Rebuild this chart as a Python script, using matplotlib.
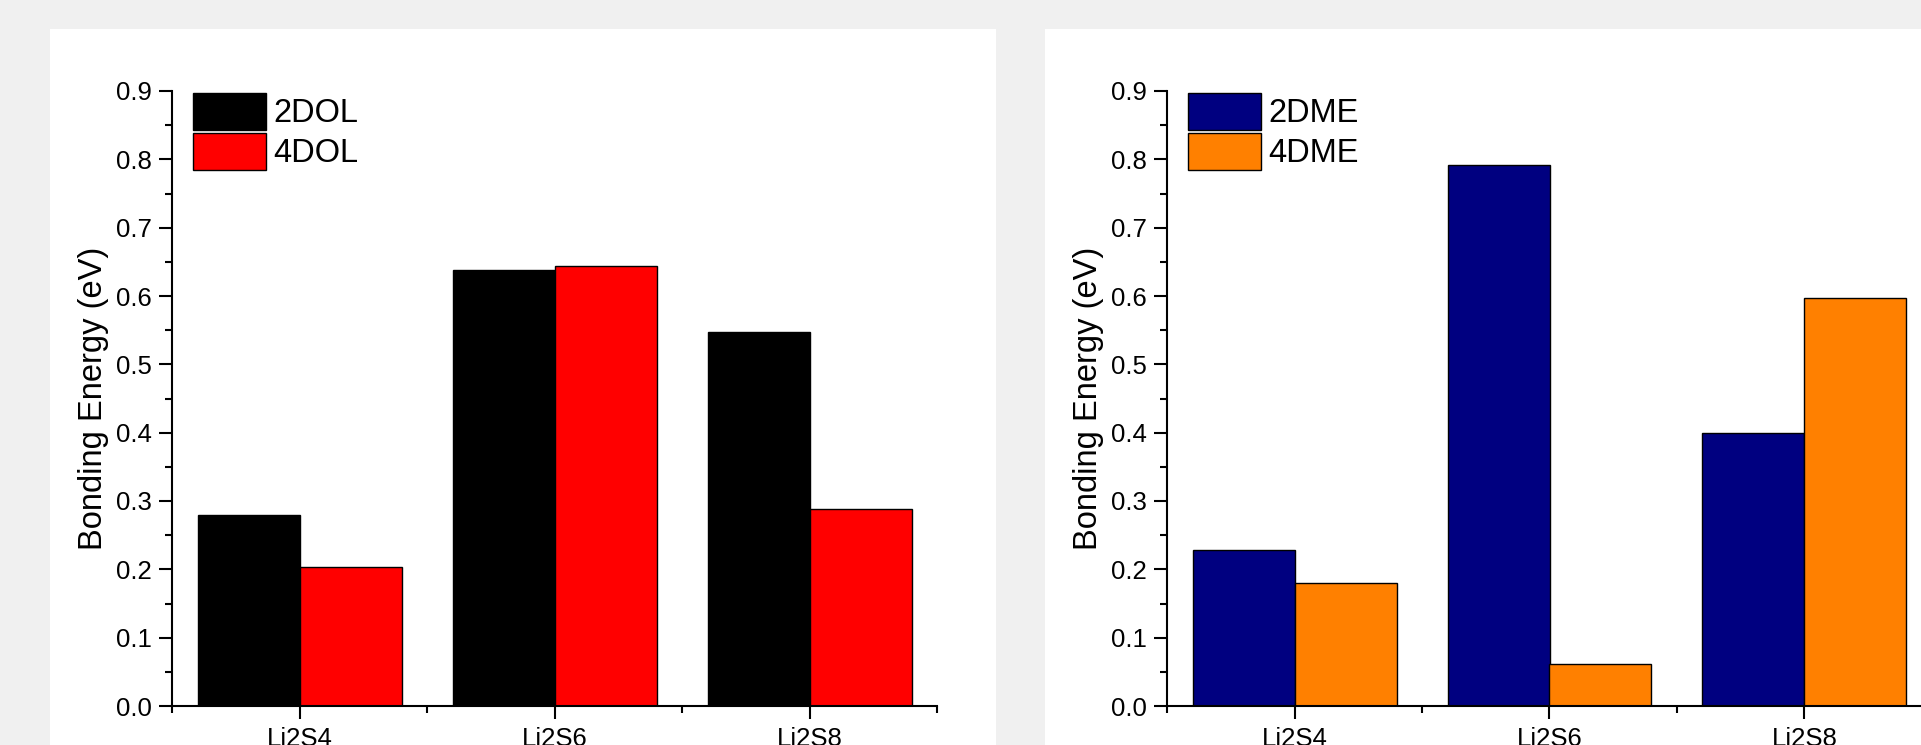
import matplotlib
matplotlib.use("Agg")
import matplotlib.pyplot as plt
from matplotlib.patches import Rectangle
from matplotlib.ticker import MultipleLocator, FixedLocator
import numpy as np

categories = ["Li2S4", "Li2S6", "Li2S8"]
dol_2 = [0.279, 0.638, 0.548]
dol_4 = [0.204, 0.644, 0.288]
dme_2 = [0.229, 0.791, 0.399]
dme_4 = [0.180, 0.061, 0.597]

plt.rcParams['font.family'] = ['Liberation Sans', 'DejaVu Sans']

W, H = 1921, 745
fig = plt.figure(figsize=(W / 100, H / 100), dpi=100, facecolor='#f0f0f0')

# white panels
fig.patches.append(Rectangle((50 / W, 0), (996 - 50) / W, (H - 29) / H,
                             transform=fig.transFigure, facecolor='white',
                             edgecolor='none', zorder=-5))
fig.patches.append(Rectangle((1045 / W, 0), (1991 - 1045) / W, (H - 29) / H,
                             transform=fig.transFigure, facecolor='white',
                             edgecolor='none', zorder=-5))

ax_w = 765 / W
ax_b = (H - 706) / H
ax_h = (706 - 91) / H


def make_panel(left_px, s1, s2, c1, c2, labels):
    ax = fig.add_axes([left_px / W, ax_b, ax_w, ax_h])
    ax.set_facecolor('white')
    x = np.arange(1, len(categories) + 1)
    ax.bar(x - 0.4, s1, width=0.4, align='edge', color=c1, edgecolor='black',
           linewidth=1.0, label=labels[0], zorder=2)
    ax.bar(x, s2, width=0.4, align='edge', color=c2, edgecolor='black',
           linewidth=1.0, label=labels[1], zorder=2)
    ax.set_xlim(0.5, 3.5)
    ax.set_ylim(0, 0.9)
    ax.set_xticks(x)
    ax.set_xticklabels(categories)
    ax.xaxis.set_minor_locator(FixedLocator([0.5, 1.5, 2.5, 3.5]))
    ax.yaxis.set_minor_locator(MultipleLocator(0.05))
    ax.set_yticks(np.round(np.arange(0, 0.91, 0.1), 1))
    ax.set_yticklabels([f"{v:.1f}" for v in ax.get_yticks()])
    for s in ['top', 'right']:
        ax.spines[s].set_visible(False)
    for s in ['left', 'bottom']:
        ax.spines[s].set_linewidth(1.5)
    ax.tick_params(axis='both', which='major', direction='out', length=9.4,
                   width=1.5, labelsize=18.5, pad=5)
    ax.tick_params(axis='both', which='minor', direction='out', length=5,
                   width=1.5)
    ax.tick_params(axis='x', which='major', pad=6)
    ax.set_ylabel('Bonding Energy (eV)', fontsize=23.5, labelpad=5)
    ax.legend(loc='upper left', bbox_to_anchor=(21 / 765, 1 - 2 / 615),
              frameon=False, fontsize=23.5, handlelength=2.25,
              handleheight=1.36, handletextpad=0.2, labelspacing=0.1,
              borderpad=0, borderaxespad=0)
    return ax


make_panel(172, dol_2, dol_4, 'black', '#ff0000', ['2DOL', '4DOL'])
make_panel(1167, dme_2, dme_4, '#000080', '#ff8000', ['2DME', '4DME'])

fig.savefig('out.png', dpi=100, facecolor=fig.get_facecolor())
